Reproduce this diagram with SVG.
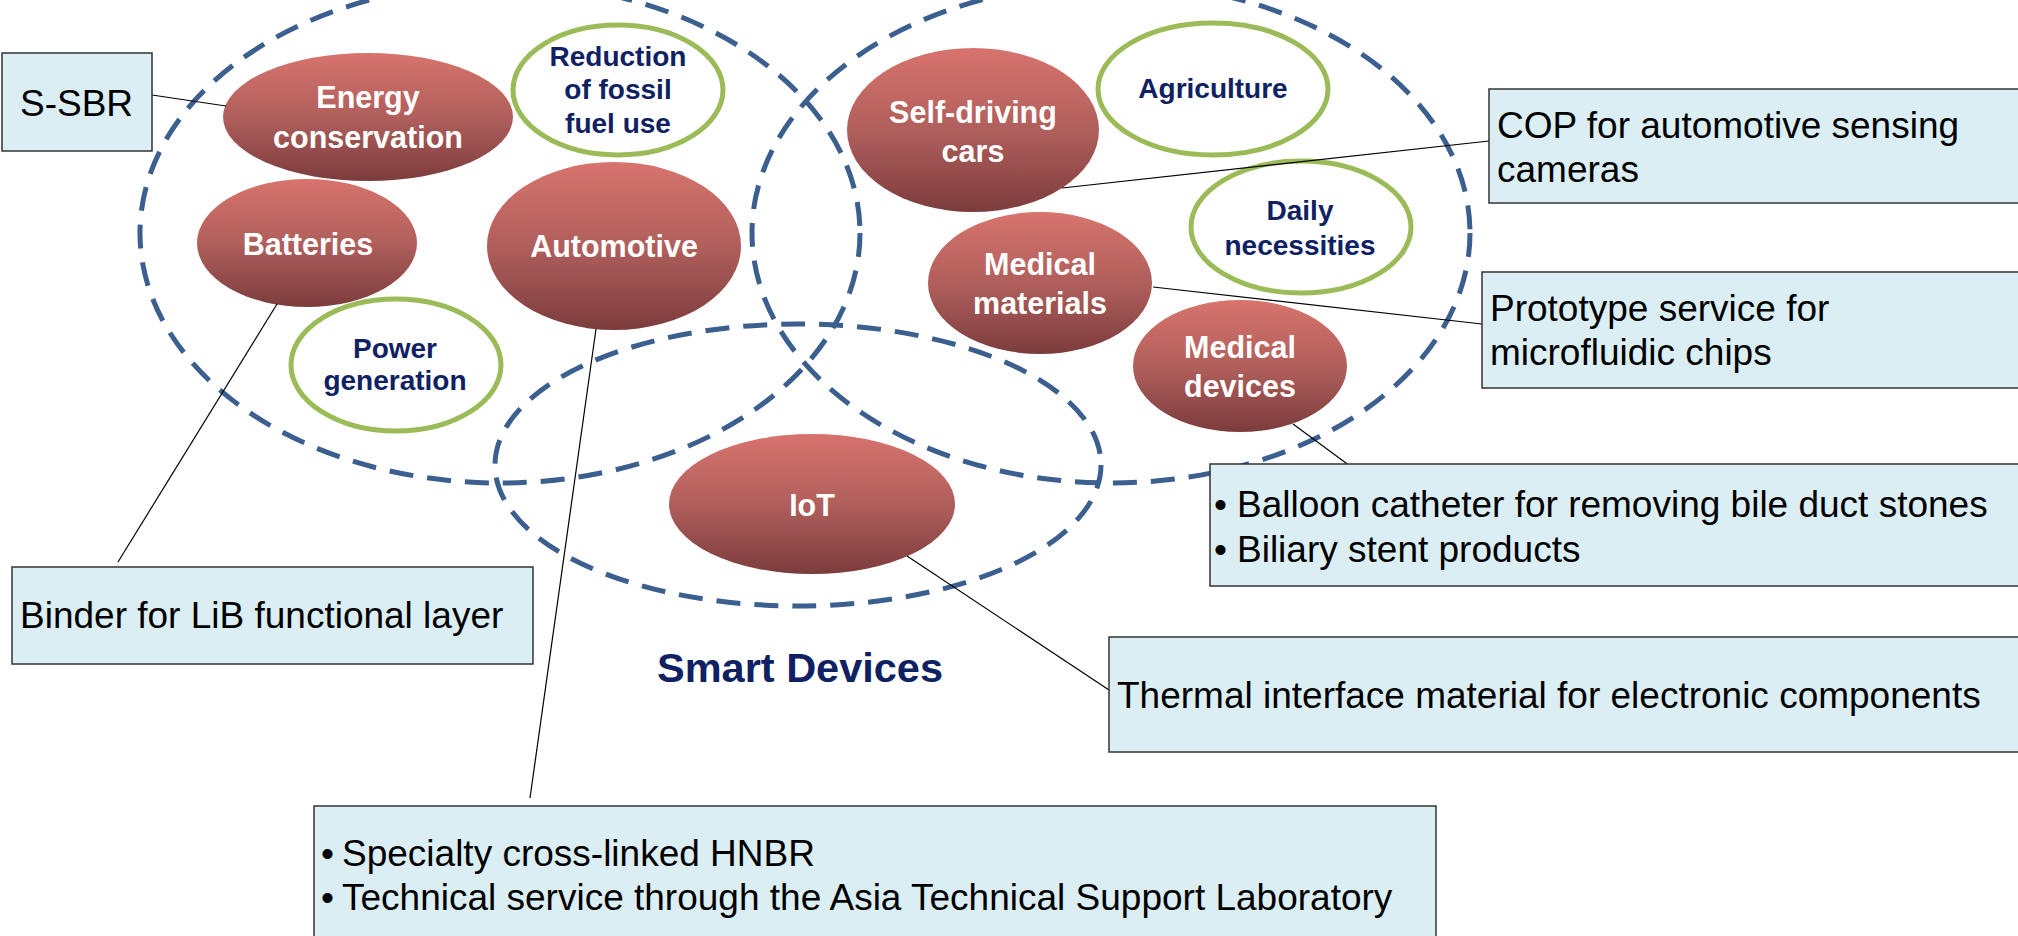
<svg xmlns="http://www.w3.org/2000/svg" width="2018" height="936" viewBox="0 0 2018 936">
<defs>
<linearGradient id="redGrad" x1="0" y1="0" x2="0" y2="1">
<stop offset="0" stop-color="#D8736D"/>
<stop offset="0.5" stop-color="#B05F5C"/>
<stop offset="1" stop-color="#7C3C3C"/>
</linearGradient>
</defs>
<style>
.zone{fill:none;stroke:#3B5F8E;stroke-width:5;stroke-dasharray:24 14}
.red{fill:url(#redGrad);stroke:none}
.green{fill:#FFFFFF;stroke:#9BBB59;stroke-width:5}
.wl{font-family:"Liberation Sans",Arial,sans-serif;font-weight:bold;font-size:30.5px;fill:#FFFFFF;text-anchor:middle}
.nl{font-family:"Liberation Sans",Arial,sans-serif;font-weight:bold;font-size:28px;fill:#0F2163;text-anchor:middle}
.box{fill:#DAEEF3;stroke:#333333;stroke-width:1.5}
.bt{font-family:"Liberation Sans",Arial,sans-serif;font-size:37px;fill:#000000}
.title{font-family:"Liberation Sans",Arial,sans-serif;font-weight:bold;font-size:41.5px;fill:#0F2163;text-anchor:middle}
.conn{stroke:#000000;stroke-width:1.2;fill:none}
</style>
<rect width="2018" height="936" fill="#FFFFFF"/>

<g id="zones">
<ellipse id="zone-left" class="zone" cx="500" cy="233" rx="360" ry="250"/>
<ellipse id="zone-right" class="zone" cx="1111" cy="233" rx="359" ry="250"/>
<ellipse id="zone-bottom" class="zone" cx="798" cy="465" rx="303" ry="141"/>
</g>

<g id="node-energy"><ellipse class="red" cx="368" cy="117" rx="145" ry="64"/><text class="wl" x="368" y="108">Energy</text><text class="wl" x="368" y="148">conservation</text></g>
<g id="node-reduction"><ellipse class="green" cx="618" cy="90" rx="105" ry="65"/><text class="nl" x="618" y="66">Reduction</text><text class="nl" x="618" y="99">of fossil</text><text class="nl" x="618" y="133">fuel use</text></g>
<g id="node-batteries"><ellipse class="red" cx="307" cy="243" rx="110" ry="64"/><text class="wl" x="308" y="255">Batteries</text></g>
<g id="node-automotive"><ellipse class="red" cx="614" cy="246" rx="127" ry="84"/><text class="wl" x="614" y="257">Automotive</text></g>
<g id="node-power"><ellipse class="green" cx="396" cy="365" rx="105" ry="66"/><text class="nl" x="395" y="358">Power</text><text class="nl" x="395" y="390">generation</text></g>
<g id="node-selfdriving"><ellipse class="red" cx="973" cy="130" rx="126" ry="82"/><text class="wl" x="973" y="123">Self-driving</text><text class="wl" x="973" y="162">cars</text></g>
<g id="node-agriculture"><ellipse class="green" cx="1213" cy="89" rx="115" ry="66"/><text class="nl" x="1213" y="98">Agriculture</text></g>
<g id="node-daily"><ellipse class="green" cx="1301" cy="227" rx="110" ry="66"/><text class="nl" x="1300" y="220">Daily</text><text class="nl" x="1300" y="255">necessities</text></g>
<g id="node-medmat"><ellipse class="red" cx="1040" cy="283" rx="112" ry="71"/><text class="wl" x="1040" y="275">Medical</text><text class="wl" x="1040" y="314">materials</text></g>
<g id="node-meddev"><ellipse class="red" cx="1240" cy="366" rx="107" ry="66"/><text class="wl" x="1240" y="358">Medical</text><text class="wl" x="1240" y="397">devices</text></g>
<g id="node-iot"><ellipse class="red" cx="812" cy="504" rx="143" ry="70"/><text class="wl" x="812" y="516">IoT</text></g>
<g id="label-smart"><text class="title" x="800" y="682">Smart Devices</text></g>

<g id="connectors">
<line class="conn" x1="152" y1="95" x2="226" y2="106"/>
<line class="conn" x1="277" y1="304" x2="118" y2="562"/>
<line class="conn" x1="596" y1="329" x2="530" y2="798"/>
<line class="conn" x1="1062" y1="188" x2="1489" y2="141"/>
<line class="conn" x1="1153" y1="287" x2="1482" y2="324"/>
<line class="conn" x1="1293" y1="424" x2="1350" y2="466"/>
<line class="conn" x1="907" y1="556" x2="1109" y2="690"/>
</g>

<g id="box-ssbr"><rect class="box" x="2" y="53" width="150" height="98"/><text class="bt" x="20" y="116">S-SBR</text></g>
<g id="box-cop"><rect class="box" x="1489" y="89" width="540" height="114"/><text class="bt" x="1497" y="138">COP for automotive sensing</text><text class="bt" x="1497" y="182">cameras</text></g>
<g id="box-prototype"><rect class="box" x="1482" y="272" width="550" height="116"/><text class="bt" x="1490" y="321">Prototype service for</text><text class="bt" x="1490" y="365">microfluidic chips</text></g>
<g id="box-balloon"><rect class="box" x="1210" y="464" width="820" height="122"/><text class="bt" y="517"><tspan x="1214">•</tspan><tspan x="1237">Balloon catheter for removing bile duct stones</tspan></text><text class="bt" y="562"><tspan x="1214">•</tspan><tspan x="1237">Biliary stent products</tspan></text></g>
<g id="box-binder"><rect class="box" x="12" y="567" width="521" height="97"/><text class="bt" x="20" y="628">Binder for LiB functional layer</text></g>
<g id="box-thermal"><rect class="box" x="1109" y="637" width="920" height="115"/><text class="bt" x="1117" y="708">Thermal interface material for electronic components</text></g>
<g id="box-specialty"><rect class="box" x="314" y="806" width="1122" height="140"/><text class="bt" y="866"><tspan x="321">•</tspan><tspan x="342">Specialty cross-linked HNBR</tspan></text><text class="bt" y="910"><tspan x="321">•</tspan><tspan x="342">Technical service through the Asia Technical Support Laboratory</tspan></text></g>
</svg>
